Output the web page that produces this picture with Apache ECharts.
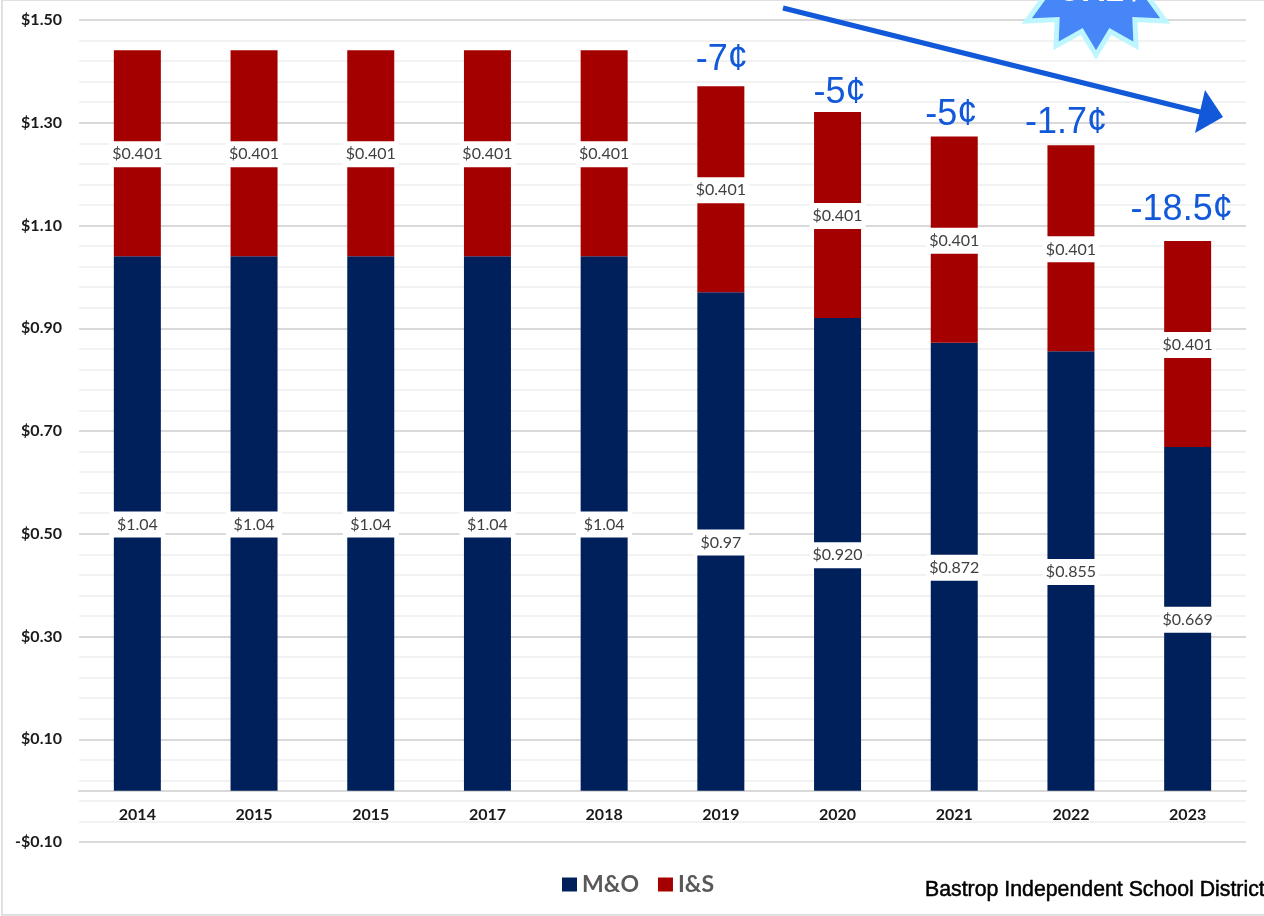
<!DOCTYPE html>
<html><head><meta charset="utf-8">
<style>html,body{margin:0;padding:0;background:#fff}#c{width:1264px;height:916px}</style>
<script src="https://cdn.jsdelivr.net/npm/echarts@6/dist/echarts.min.js"></script>
</head><body><div id="c"></div>
<script>
const categories = ['2014','2015','2015','2017','2018','2019','2020','2021','2022','2023'];
const moValues = [1.04,1.04,1.04,1.04,1.04,0.97,0.920,0.872,0.855,0.669];
const moLabels = ['$1.04','$1.04','$1.04','$1.04','$1.04','$0.97','$0.920','$0.872','$0.855','$0.669'];
const isValues = [0.401,0.401,0.401,0.401,0.401,0.401,0.401,0.401,0.401,0.401];
const isLabels = ['$0.401','$0.401','$0.401','$0.401','$0.401','$0.401','$0.401','$0.401','$0.401','$0.401'];
const changes = ['','','','','','-7¢','-5¢','-5¢','-1.7¢','-18.5¢'];
const totals = moValues.map((v,i)=>v+isValues[i]);
// hand placement of the change captions, which sit unevenly above the bars
const captionNudge = [[0,0],[0,0],[0,0],[0,0],[0,0],[1,2],[2,9],[-3,6],[-5,6],[-6,-3]];
const uiFont = 'Lato,"Open Sans",sans-serif';
const lblStyle = {show:true,position:'inside',offset:[0,1],color:'#404040',fontFamily:uiFont,fontSize:16,backgroundColor:'#fff',width:56,height:26,lineHeight:26,align:'center',verticalAlign:'middle'};
const chart = echarts.init(document.getElementById('c'),null,{renderer:'canvas'});
chart.setOption({
  animation:false,
  backgroundColor:'#fff',
  legend:{left:557,top:868,itemGap:19,itemWidth:15,itemHeight:14,icon:'rect',
    data:['M&O','I&S'],
    textStyle:{color:'#595959',fontSize:23,fontWeight:'bold',fontFamily:uiFont}},
  grid:{left:79,right:18,top:20,bottom:74,containLabel:false},
  xAxis:{type:'category',data:categories,position:'bottom',
    axisLine:{onZero:true,lineStyle:{color:'#d9d9d9',width:2}},axisTick:{show:false},
    axisLabel:{color:'#1a1a1a',fontFamily:uiFont,fontWeight:'bold',fontSize:16,margin:-35}},
  yAxis:{type:'value',min:-0.1,max:1.5,interval:0.2,
    axisLine:{show:false},axisTick:{show:false},
    axisLabel:{color:'#1a1a1a',fontFamily:uiFont,fontWeight:'bold',fontSize:16,margin:17,
      formatter:v=>(v<0?'-$':'$')+Math.abs(v).toFixed(2)},
    splitLine:{show:true,lineStyle:{color:'#d9d9d9',width:2}},
    minorTick:{show:false,splitNumber:5},
    minorSplitLine:{show:true,lineStyle:{color:'#f2f2f2',width:2}}},
  series:[
    {name:'M&O',type:'bar',stack:'t',barWidth:47,data:moValues,itemStyle:{color:'#00205b'},
      label:{...lblStyle,formatter:p=>moLabels[p.dataIndex]}},
    {name:'I&S',type:'bar',stack:'t',barWidth:47,data:isValues,itemStyle:{color:'#a50000'},
      label:{...lblStyle,formatter:p=>isLabels[p.dataIndex]}},
    {name:'change',type:'scatter',symbolSize:0,silent:true,z:5,itemStyle:{opacity:1},
      data:totals.map((v,i)=>({value:v,label:{offset:captionNudge[i]}})),
      label:{show:true,position:'top',distance:10,color:'#1259d9',opacity:1,fontFamily:'"Liberation Sans",Arial,sans-serif',fontSize:36,
        formatter:p=>changes[p.dataIndex]}}
  ],
  graphic:[
    {type:'polyline',z:100,shape:{points:[[1264,0],[2,0],[2,915],[1264,915]]},style:{fill:'none',stroke:'#e0e0e0',lineWidth:2}},
    {type:'polygon',z:101,shape:{points:star(1096,-13,80,68,55,46,12)},style:{fill:'#4686f7',stroke:'#bdf6ff',lineWidth:5,lineJoin:'miter'}},
    {type:'text',z:103,x:1096,y:8,style:{text:'-37.2¢',align:'center',verticalAlign:'bottom',fill:'#fff',fontSize:33,fontWeight:'bold',fontFamily:'"Liberation Sans",Arial,sans-serif'}},
    {type:'line',z:101,shape:{x1:783,y1:8,x2:1204,y2:113},style:{stroke:'#1259d9',lineWidth:5}},
    {type:'polygon',z:101,shape:{points:[[1205,90],[1223,117],[1195,133]]},style:{fill:'#1259d9'}},
    {type:'text',z:101,style:{x:925,y:880,text:'Bastrop Independent School District',fill:'#000',fontSize:21.3,fontFamily:'"Liberation Sans",Arial,sans-serif',stroke:'#000',lineWidth:0.5}}
  ]
});
function star(cx,cy,Rx,Ry,rx,ry,n){
  const pts=[];
  for(let i=0;i<2*n;i++){const a=Math.PI*i/n+Math.PI/2;const o=i%2===0;pts.push([cx+(o?Rx:rx)*Math.cos(a),cy+(o?Ry:ry)*Math.sin(a)]);}
  return pts;
}
</script></body></html>
